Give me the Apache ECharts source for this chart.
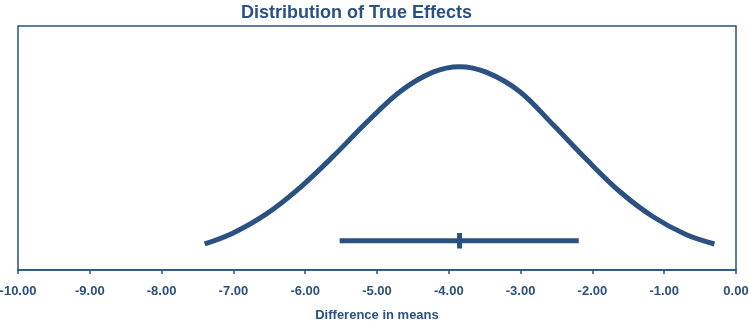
<!DOCTYPE html>
<html>
<head>
<meta charset="utf-8">
<script src="https://cdn.jsdelivr.net/npm/echarts@6/dist/echarts.min.js"></script>
<style>
    html, body { margin: 0; padding: 0; background: #fff; }
    #chart { width: 749px; height: 322px; }
</style>
</head>
<body>
<div id="chart"></div>
<script>
// values (relative density, peak = 1)
const curveX = [-7.40, -7.01, -6.54, -6.08, -5.61, -5.15, -4.68, -4.22, -3.85,
                -3.48, -3.01, -2.55, -2.08, -1.62, -1.16, -0.69, -0.30];
const curveY = [0.128, 0.181, 0.276, 0.403, 0.559, 0.724, 0.877, 0.973, 1.0,
                0.973, 0.877, 0.715, 0.543, 0.386, 0.263, 0.173, 0.128];
const intervalX = [-5.52, -2.19];
const intervalLevel = 0.144;
const pointEstimate = -3.85;
const tickSpan = [0.106, 0.182];

const navy = '#2a5181';
const font = 'Liberation Sans, Arial, sans-serif';

let option = {
    animation: false,
    title: {
        text: 'Distribution of True Effects',
        left: 236,
        top: -1,
        textStyle: {
            color: navy,
            fontSize: 18,
            fontWeight: 'bold',
            fontFamily: font
        }
    },
    grid: {
        left: 18,
        right: 13,
        top: 26,
        bottom: 52,
        outerBoundsMode: 'none',
        containLabel: false,
        show: true,
        borderColor: navy,
        borderWidth: 1.5
    },
    xAxis: {
        type: 'value',
        min: -10,
        max: 0,
        interval: 1,
        name: 'Difference in means',
        nameLocation: 'middle',
        nameGap: 39,
        nameTextStyle: {
            color: navy,
            fontSize: 13,
            fontWeight: 'bold',
            fontFamily: font
        },
        axisLine: { lineStyle: { color: navy, width: 1.5 } },
        axisTick: { show: true, length: 4, lineStyle: { color: navy, width: 1.5 } },
        splitLine: { show: false },
        axisLabel: {
            margin: 15,
            color: navy,
            fontSize: 13,
            fontWeight: 'bold',
            fontFamily: font,
            formatter: v => v.toFixed(2)
        }
    },
    yAxis: {
        type: 'value',
        min: 0,
        max: 1.2,
        show: false
    },
    series: [
        {
            name: 'Distribution',
            type: 'line',
            smooth: 0.35,
            symbol: 'none',
            lineStyle: { color: navy, width: 5, join: 'round' },
            data: curveX.map((x, i) => [x, curveY[i]])
        },
        {
            name: 'Interval',
            type: 'line',
            symbol: 'none',
            lineStyle: { color: navy, width: 5 },
            data: intervalX.map(x => [x, intervalLevel])
        },
        {
            name: 'Estimate',
            type: 'line',
            symbol: 'none',
            lineStyle: { color: navy, width: 5 },
            data: tickSpan.map(y => [pointEstimate, y])
        }
    ]
};

let myChart = echarts.init(document.getElementById('chart'));
myChart.setOption(option);
</script>
</body>
</html>
